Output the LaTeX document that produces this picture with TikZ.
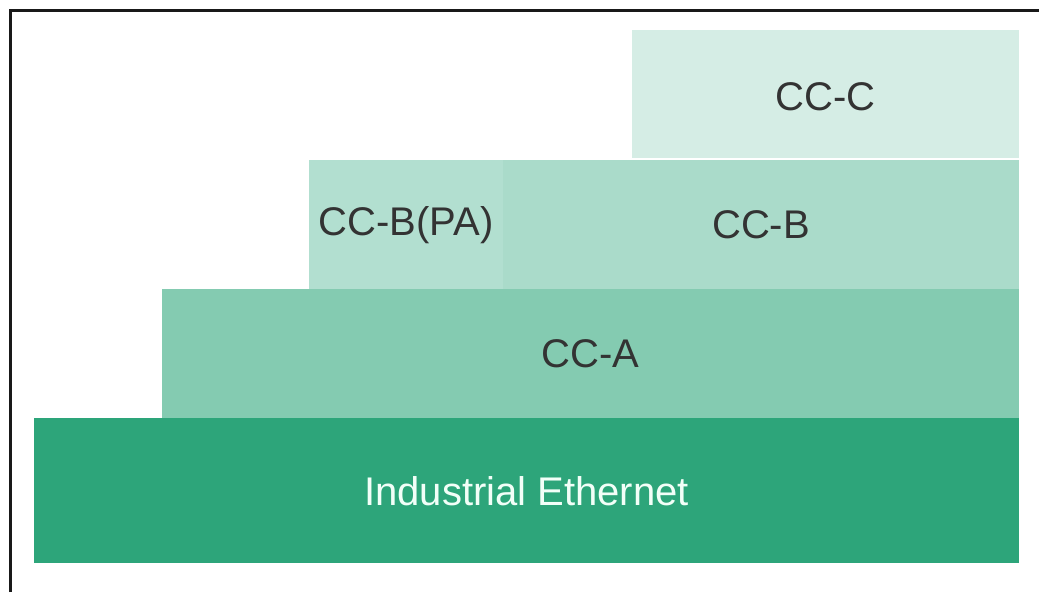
\documentclass[tikz,border=0pt]{standalone}
\usepackage{fontspec}
\setmainfont{Liberation Sans}
\definecolor{ieth}{HTML}{2DA57A}
\definecolor{cca}{HTML}{84CBB1}
\definecolor{ccbpa}{HTML}{B2DFD0}
\definecolor{ccb}{HTML}{AADBCA}
\definecolor{ccc}{HTML}{D5EDE5}
\definecolor{lbl}{HTML}{333333}
\definecolor{lightlbl}{HTML}{F2FFF8}
\begin{document}
\begin{tikzpicture}[x=1pt,y=-1pt,
  layer/.style={inner sep=0pt, outer sep=0pt, font=\fontsize{40}{45}\selectfont, text=lbl}]
\useasboundingbox (0,0) rectangle (1039,592);
\fill[white] (0,0) rectangle (1039,592);
\draw[line width=2.6pt, black!90] (10.5,592) -- (10.5,10.5) -- (1039,10.5);
% layers
\fill[ieth] (34,418) rectangle (1019,563);
\fill[cca] (162,289) rectangle (1019,418);
\fill[ccbpa] (309,160) rectangle (503,289);
\fill[ccb] (503,160) rectangle (1019,289);
\fill[ccc] (632,30) rectangle (1019,158);
% labels
\node[layer, text=lightlbl] (ie) at (526.5,491) {Industrial Ethernet};
\node[layer] (a) at (590.5,354) {CC-A};
\node[layer] (bpa) at (406,225) {CC-B(PA)};
\node[layer] (b) at (761,225) {CC-B};
\node[layer] (c) at (825.5,97) {CC-C};
\end{tikzpicture}
\end{document}
